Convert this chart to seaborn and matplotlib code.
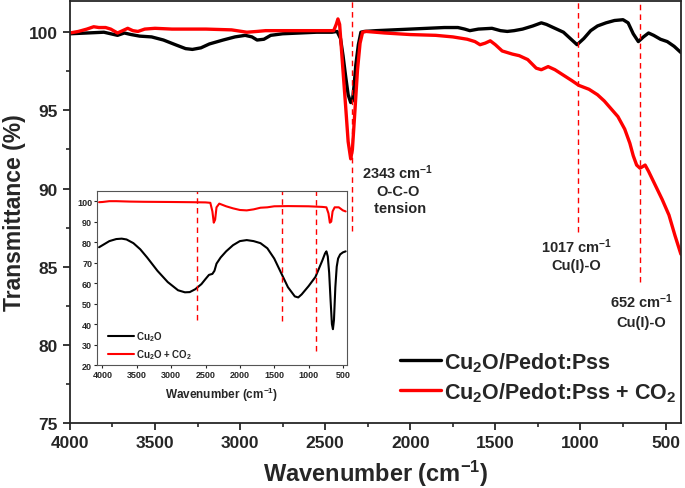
import numpy as np
import pandas as pd
import seaborn as sns
import matplotlib.pyplot as plt
from matplotlib.ticker import MultipleLocator

# main spectra: Cu2O/Pedot:Pss without and with CO2
wn_black = [4000, 3900, 3800, 3760, 3720, 3680, 3640, 3590, 3520, 3450, 3380, 3320, 3280, 3230,
            3180, 3100, 3030, 2970, 2930, 2900, 2860, 2820, 2750, 2650, 2550, 2460, 2430, 2410,
            2395, 2380, 2365, 2350, 2340, 2330, 2320, 2305, 2290, 2270, 2200, 2100, 2000, 1900,
            1800, 1720, 1680, 1650, 1600, 1520, 1470, 1430, 1390, 1340, 1280, 1230, 1200, 1160,
            1100, 1060, 1020, 980, 940, 900, 850, 800, 750, 720, 690, 660, 630, 600, 570, 530,
            490, 450, 410]
t_black = [99.9, 99.95, 100.0, 99.9, 99.8, 99.95, 99.85, 99.75, 99.7, 99.5, 99.2, 98.95, 98.9, 99.0,
           99.25, 99.5, 99.7, 99.8, 99.7, 99.5, 99.55, 99.8, 99.9, 99.95, 100.0, 100.0, 100.05, 99.6,
           98.5, 97.2, 96.0, 95.5, 95.6, 96.6, 97.9, 99.2, 100.0, 100.05, 100.1, 100.15, 100.2, 100.25,
           100.3, 100.3, 100.2, 100.1, 100.2, 100.25, 100.1, 100.05, 100.1, 100.2, 100.4, 100.6, 100.5, 100.3,
           100.0, 99.6, 99.2, 99.6, 100.1, 100.4, 100.6, 100.75, 100.8, 100.6, 99.9, 99.4, 99.7, 99.95, 99.8, 99.55,
           99.4, 99.1, 98.7]

wn_red = [4000, 3950, 3900, 3860, 3830, 3790, 3760, 3720, 3690, 3660, 3630, 3600, 3560, 3500,
          3400, 3200, 3050, 2960, 2900, 2850, 2700, 2600, 2500, 2450, 2435, 2425, 2415, 2405,
          2395, 2380, 2365, 2350, 2340, 2325, 2310, 2295, 2280, 2260, 2150, 2000, 1850, 1750,
          1665, 1620, 1590, 1560, 1530, 1500, 1460, 1400, 1360, 1310, 1260, 1230, 1190, 1150,
          1100, 1050, 1010, 950, 900, 860, 820, 780, 740, 710, 690, 670, 650, 620, 600, 560,
          520, 480, 445, 410]
t_red = [99.95, 100.05, 100.2, 100.35, 100.3, 100.3, 100.2, 99.95, 100.1, 100.25, 100.1, 100.05, 100.2, 100.25,
         100.2, 100.2, 100.15, 100.0, 100.05, 100.1, 100.1, 100.1, 100.1, 100.1, 100.5, 100.85, 100.5, 99.0,
         97.5, 95.3, 93.0, 91.9, 92.5, 95.0, 97.6, 99.3, 100.0, 100.05, 99.95, 99.85, 99.8, 99.7,
         99.55, 99.4, 99.2, 99.3, 99.45, 99.2, 98.8, 98.6, 98.5, 98.25, 97.7, 97.6, 97.8, 97.6,
         97.25, 96.9, 96.6, 96.35, 96.0, 95.6, 95.1, 94.6, 93.8, 92.9, 92.1, 91.5, 91.3, 91.5, 91.1, 90.2,
         89.3, 88.3, 87.0, 85.8]

# inset spectra: bare Cu2O without and with CO2
wn_in_black = [4050, 4000, 3900, 3800, 3720, 3650, 3550, 3450, 3350, 3200, 3050, 2900, 2800, 2730,
               2650, 2560, 2500, 2450, 2400, 2370, 2340, 2280, 2200, 2100, 2000, 1900, 1800, 1700,
               1600, 1500, 1400, 1300, 1200, 1150, 1100, 1000, 900, 850, 800, 760, 740, 720, 700,
               680, 660, 645, 630, 610, 590, 570, 540, 500, 460]
t_in_black = [77.5, 78.5, 80.5, 81.5, 81.7, 81.3, 79.5, 76.5, 72.5, 66, 60.5, 56.5, 55.5, 55.6,
              57, 59.5, 62, 64, 64.5, 66, 69.5, 72.5, 75.5, 78.5, 80.5, 81, 80.5, 79.5,
              77, 72, 65, 58, 53.5, 53, 54.5, 58.5, 63, 67, 71, 74.5, 75.5, 73, 65,
              52, 40, 37.5, 42, 58, 68, 72, 74, 75, 75.5]

wn_in_red = [4050, 4000, 3900, 3800, 3600, 3400, 3000, 2700, 2500, 2430, 2400, 2380, 2360, 2340,
             2300, 2200, 2100, 2000, 1900, 1800, 1700, 1600, 1500, 1300, 1000, 800, 740, 710,
             690, 670, 650, 620, 560, 500, 460]
t_in_red = [99.5, 99.6, 100.0, 100.0, 99.8, 99.7, 99.6, 99.5, 99.4, 99.2, 95, 89.5, 91, 97,
            98.8, 97.5, 96.5, 95.7, 95.5, 96, 96.8, 97, 97.5, 97.6, 97.5, 97.2, 97, 94,
            89.5, 90, 95, 97, 97, 95.5, 95]

main_marks = [2343, 1017, 652]
inset_marks = [2620, 1390, 890]

sns.set_style('ticks')
plt.rcParams['font.family'] = ['Liberation Sans', 'DejaVu Sans']
plt.rcParams['font.weight'] = 'bold'
plt.rcParams['axes.labelweight'] = 'bold'
plt.rcParams['mathtext.fontset'] = 'custom'
plt.rcParams['mathtext.rm'] = 'Liberation Sans:bold'
plt.rcParams['mathtext.bf'] = 'Liberation Sans:bold'
plt.rcParams['mathtext.default'] = 'bf'

fig = plt.figure(figsize=(6.85, 4.89), dpi=100)
ax = fig.add_axes([0.102, 0.133, 0.892, 0.863])

sns.lineplot(x=wn_black, y=t_black, ax=ax, color='black', lw=2.4, estimator=None,
             label='Cu$_2$O/Pedot:Pss')
sns.lineplot(x=wn_red, y=t_red, ax=ax, color='#ff0000', lw=2.4, estimator=None,
             label='Cu$_2$O/Pedot:Pss + CO$_2$')

ax.set_xlim(4000, 410)
ax.set_ylim(75, 102)
ax.xaxis.set_major_locator(MultipleLocator(500))
ax.xaxis.set_minor_locator(MultipleLocator(250))
ax.yaxis.set_major_locator(MultipleLocator(5))
ax.yaxis.set_minor_locator(MultipleLocator(2.5))
ax.tick_params(which='major', length=5, width=1.3, labelsize=12.5)
ax.tick_params(which='minor', length=3, width=1.2)
for s in ax.spines.values():
    s.set_linewidth(1.3)
ax.set_xlabel('Wavenumber (cm$^{-1}$)', fontsize=17, labelpad=6)
ax.set_ylabel('Transmittance (%)', fontsize=16.5, labelpad=2)

# dashed markers for the main bands
ends = [87.3, 87.2, 84.0]
for m, e in zip(main_marks, ends):
    ax.plot([m, m], [e, 102], ls='--', color='#ff0000', lw=1, dashes=(4, 3))

ax.text(2074, 90.0, '2343 cm$^{-1}$\nO-C-O\n tension', ha='center', va='center',
        fontsize=10.5, linespacing=1.3)
ax.text(1023, 85.8, '1017 cm$^{-1}$\nCu(I)-O', ha='center', va='center',
        fontsize=10.5, linespacing=1.3)
ax.text(641, 82.2, '652 cm$^{-1}$\nCu(I)-O', ha='center', va='center',
        fontsize=10.5, linespacing=1.5)

ax.legend(loc='lower left', bbox_to_anchor=(0.508, 0.0), frameon=False, fontsize=15.5,
          handlelength=1.9, handletextpad=0.15, labelspacing=0.3)

# inset
ins = fig.add_axes([0.1416, 0.2515, 0.365, 0.356])
sns.lineplot(x=wn_in_black, y=t_in_black, ax=ins, color='black', lw=1.5, estimator=None,
             label='Cu$_2$O')
sns.lineplot(x=wn_in_red, y=t_in_red, ax=ins, color='#ff0000', lw=1.5, estimator=None,
             label='Cu$_2$O + CO$_2$')
ins.set_xlim(4080, 440)
ins.set_ylim(20, 105)
ins.xaxis.set_major_locator(MultipleLocator(500))
ins.set_yticks(range(20, 101, 10))
ins.tick_params(length=2, width=0.8, labelsize=6.5, pad=1.5)
for s in ins.spines.values():
    s.set_linewidth(0.8)
    s.set_color('#555555')
ins.set_xlabel('Wavenumber (cm$^{-1}$)', fontsize=8.5, labelpad=4)
ins.set_ylabel('')
in_ends = [42, 41.5, 27]
for m, e in zip(inset_marks, in_ends):
    ins.plot([m, m], [e, 105], ls='--', color='#ff0000', lw=1, dashes=(4, 3))
ins.legend(loc='lower left', bbox_to_anchor=(0.01, -0.03), frameon=False, fontsize=7,
           handlelength=2.6, handletextpad=0.3, labelspacing=0.45)

fig.savefig('out.png', dpi=100)
